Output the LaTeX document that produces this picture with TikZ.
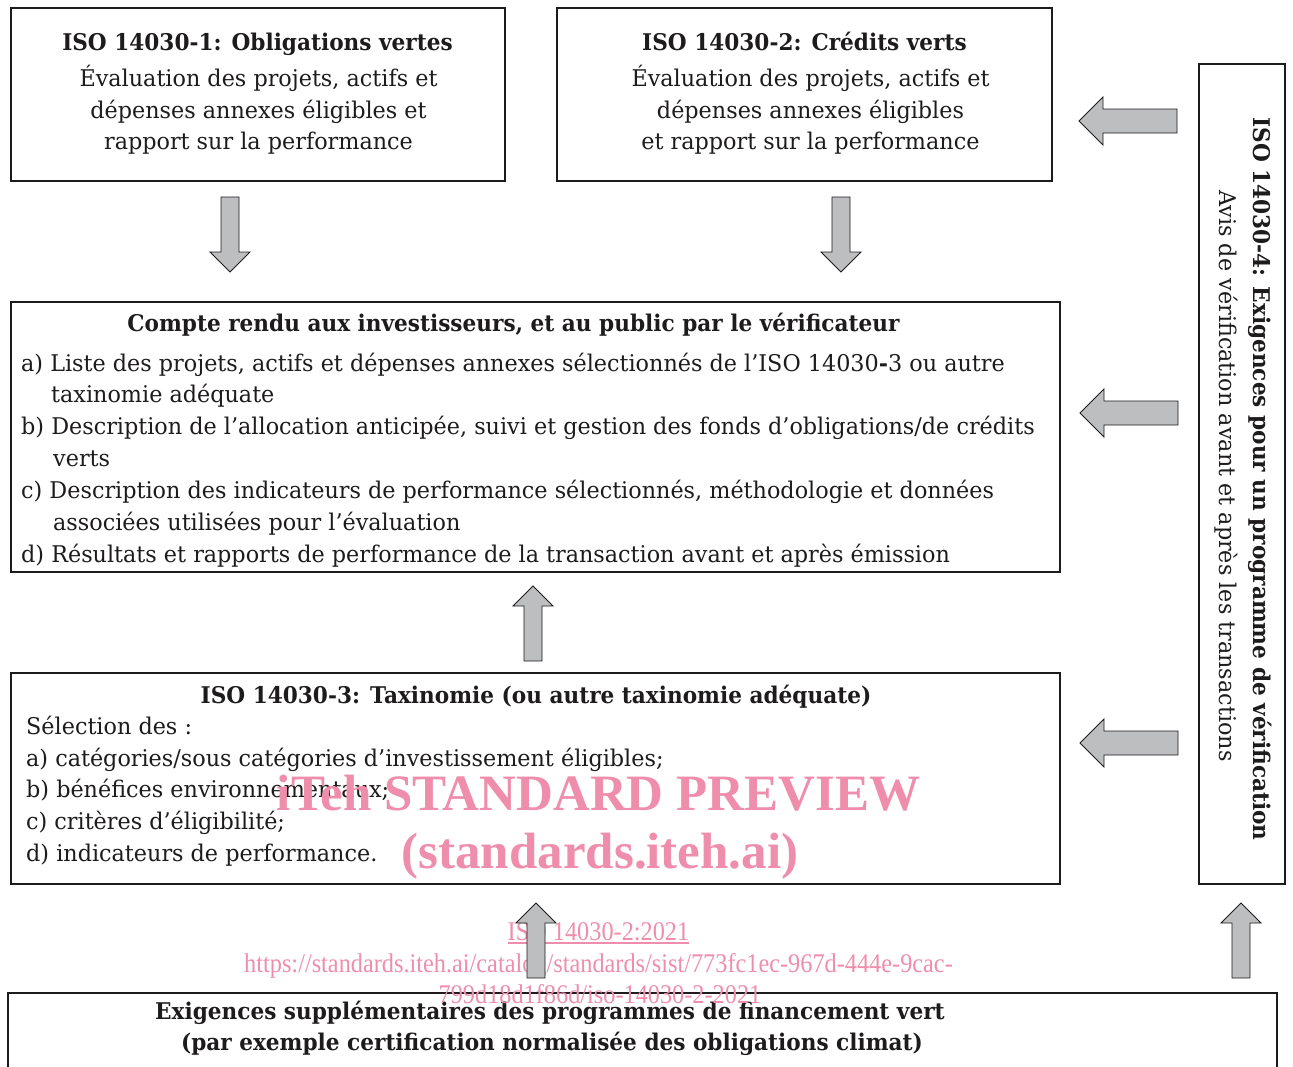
\documentclass[tikz,border=0pt]{standalone}
\usepackage{fontspec}
\setmainfont{DejaVu Serif}
\newfontfamily\bodyfont{DejaVu Serif}[FakeStretch=0.97]
\newfontfamily\headfont{DejaVu Serif}[FakeStretch=0.94]
\newfontfamily\wmfont{Liberation Serif}[FakeStretch=0.9]
\newfontfamily\wmbfont{Liberation Serif}
\definecolor{ink}{RGB}{30,27,28}
\definecolor{arrfill}{RGB}{188,190,192}
\definecolor{wmpink}{RGB}{239,142,172}
\begin{document}
\begin{tikzpicture}[x=1pt,y=-1pt,
  box/.style={draw=ink, line width=2pt, inner sep=0pt},
  txt/.style={inner sep=0pt, text=ink, font=\bodyfont\fontsize{23}{32}\selectfont},
  hd/.style={inner sep=0pt, text=ink, font=\headfont\bfseries\fontsize{23}{32}\selectfont},
  wmbig/.style={inner sep=0pt, text=wmpink, font=\wmbfont\bfseries\fontsize{51}{60}\selectfont},
  wmsmall/.style={inner sep=0pt, text=wmpink, font=\wmfont\fontsize{27}{30}\selectfont},
  arr/.style={fill=arrfill, draw=ink, line width=0.9pt, line join=miter},
  pics/smallarrow/.style={code={\draw[arr] (0,0) -- (20,20) -- (9,20) -- (9,75) -- (-9,75) -- (-9,20) -- (-20,20) -- cycle;}},
  pics/bigarrow/.style={code={\draw[arr] (0,0) -- (24,24) -- (12,24) -- (12,98) -- (-12,98) -- (-12,24) -- (-24,24) -- cycle;}}
]
\useasboundingbox (0,0) rectangle (1293,1066);
\fill[white] (0,0) rectangle (1293,1066);

% boxes
\node[box, minimum width=494pt, minimum height=173pt] (b1) at (258,94.5) {};
\node[box, minimum width=495pt, minimum height=173pt] (b2) at (804.5,94.5) {};
\node[box, minimum width=1049pt, minimum height=270pt] (b3) at (535.5,437) {};
\node[box, minimum width=1049pt, minimum height=211pt] (b4) at (535.5,778.5) {};
\node[box, minimum width=86pt, minimum height=820pt] (b5) at (1242,474) {};
\node[box, minimum width=1269pt, minimum height=100pt] (b6) at (642.5,1043) {};

% box 1
\node[hd, anchor=base] (b1t) at (257.5,50) {ISO 14030-1: Obligations vertes};
\node[txt, anchor=base] (b1l1) at (258.5,86) {Évaluation des projets, actifs et};
\node[txt, anchor=base] (b1l2) at (258.5,118) {dépenses annexes éligibles et};
\node[txt, anchor=base] (b1l3) at (258.5,149) {rapport sur la performance};

% box 2
\node[hd, anchor=base] (b2t) at (804.5,50) {ISO 14030-2: Crédits verts};
\node[txt, anchor=base] (b2l1) at (810.5,86) {Évaluation des projets, actifs et};
\node[txt, anchor=base] (b2l2) at (810.5,118) {dépenses annexes éligibles};
\node[txt, anchor=base] (b2l3) at (810.5,149) {et rapport sur la performance};

% box 3
\node[hd, anchor=base] (b3t) at (513.5,331) {Compte rendu aux investisseurs, et au public par le vérificateur};
\node[txt, anchor=base west] (b3a1) at (21,371) {a) Liste des projets, actifs et dépenses annexes sélectionnés de l’ISO 14030{\bfseries -}3 ou autre};
\node[txt, anchor=base west] (b3a2) at (51,402) {taxinomie adéquate};
\node[txt, anchor=base west] (b3b1) at (21,434) {b) Description de l’allocation anticipée, suivi et gestion des fonds d’obligations/de crédits};
\node[txt, anchor=base west] (b3b2) at (53,466) {verts};
\node[txt, anchor=base west] (b3c1) at (21,498) {c) Description des indicateurs de performance sélectionnés, méthodologie et données};
\node[txt, anchor=base west] (b3c2) at (53,530) {associées utilisées pour l’évaluation};
\node[txt, anchor=base west] (b3d1) at (21,562) {d) Résultats et rapports de performance de la transaction avant et après émission};

% box 4
\node[hd, anchor=base] (b4t) at (536,703) {ISO 14030-3: Taxinomie (ou autre taxinomie adéquate)};
\node[txt, anchor=base west] (b4s) at (26,734) {Sélection des :};
\node[txt, anchor=base west] (b4a) at (26,766) {a) catégories/sous catégories d’investissement éligibles;};
\node[txt, anchor=base west] (b4b) at (26,797) {b) bénéfices environnementaux;};
\node[txt, anchor=base west] (b4c) at (26,829) {c) critères d’éligibilité;};
\node[txt, anchor=base west] (b4d) at (26,861) {d) indicateurs de performance.};

% box 5 (vertical)
\node[hd, anchor=base, rotate=-90] (b5t) at (1253,479) {ISO 14030-4: Exigences pour un programme de vérification};
\node[txt, anchor=base, rotate=-90] (b5s) at (1219,476) {Avis de vérification avant et après les transactions};

% box 6
\node[hd, anchor=base] (b6l1) at (550,1019) {Exigences supplémentaires des programmes de financement vert};
\node[hd, anchor=base] (b6l2) at (552,1050) {(par exemple certification normalisée des obligations climat)};

% watermark
\node[wmbig, anchor=base] (wm1) at (598.5,810) {iTeh STANDARD PREVIEW};
\node[wmbig, anchor=base] (wm2) at (600,868) {(standards.iteh.ai)};
\node[wmsmall, anchor=base] (wm3) at (598.5,940) {ISO 14030-2:2021};
\draw[wmpink, line width=1.2pt] ([yshift=-3pt]wm3.base west) -- ([yshift=-3pt]wm3.base east);
\node[wmsmall, anchor=base] (wm4) at (598.5,972) {https://standards.iteh.ai/catalog/standards/sist/773fc1ec-967d-444e-9cac-};
\node[wmsmall, anchor=base] (wm5) at (600,1003) {799d18d1f86d/iso-14030-2-2021};

% arrows
\pic[rotate=180] (a1) at (230,272) {smallarrow};
\pic[rotate=180] (a2) at (841,272) {smallarrow};
\pic (a3) at (533,586) {smallarrow};
\pic (a4) at (536,903) {smallarrow};
\pic (a5) at (1241,903) {smallarrow};
\pic[rotate=90] (a6) at (1079,121) {bigarrow};
\pic[rotate=90] (a7) at (1080,413) {bigarrow};
\pic[rotate=90] (a8) at (1080,743) {bigarrow};
\end{tikzpicture}
\end{document}
